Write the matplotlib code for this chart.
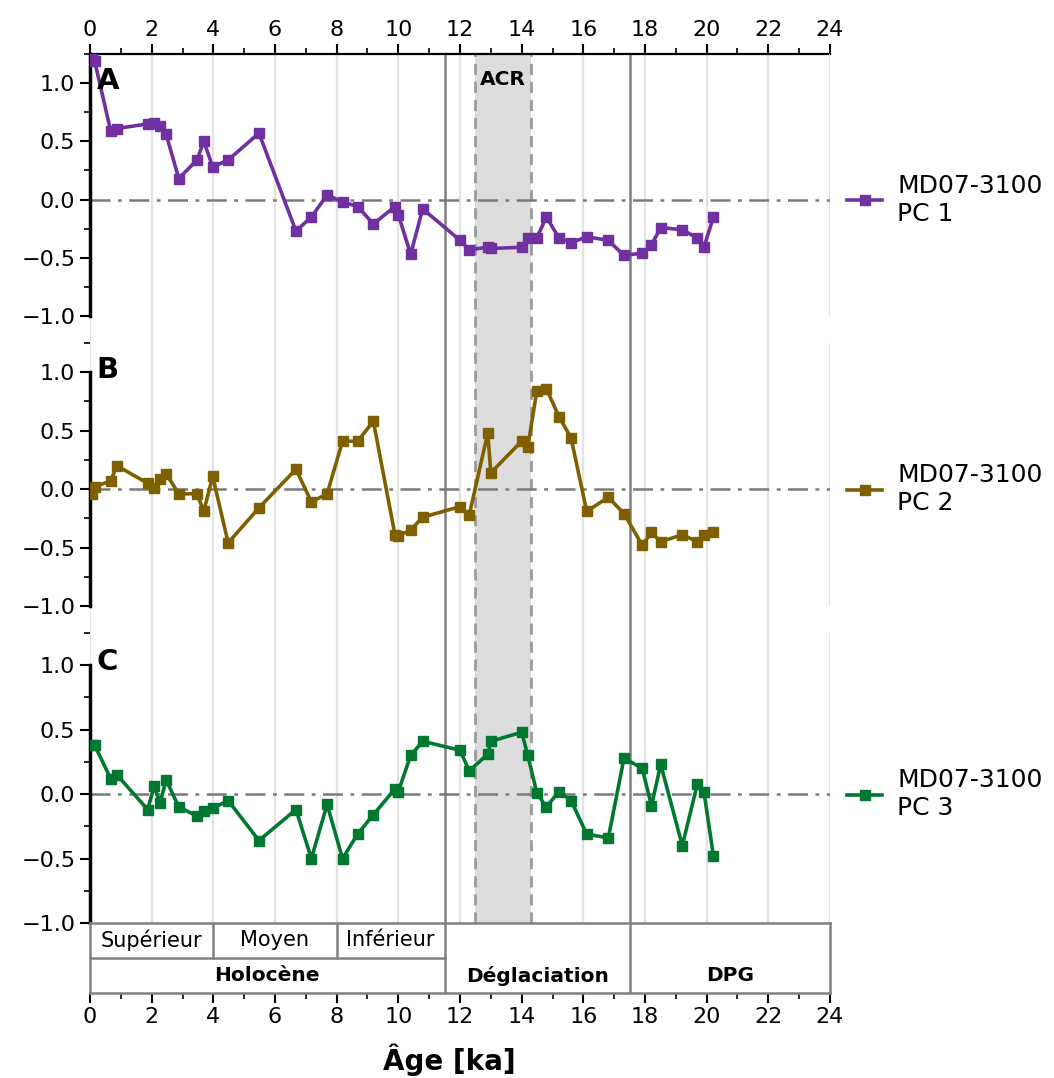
import matplotlib
matplotlib.use("Agg")
import matplotlib.pyplot as plt
from matplotlib.ticker import MultipleLocator, FixedLocator

plt.rcParams['font.family'] = ['DejaVu Sans']

age = [0.08, 0.15, 0.67, 0.87, 1.87, 2.08, 2.27, 2.47, 2.88, 3.47, 3.69, 3.98,
       4.48, 5.48, 6.68, 7.18, 7.69, 8.19, 8.68, 9.19, 9.89, 10.0, 10.40, 10.79,
       12.0, 12.30, 12.90, 13.0, 14.0, 14.2, 14.49, 14.80, 15.21, 15.60, 16.11,
       16.81, 17.32, 17.91, 18.21, 18.51, 19.21, 19.70, 19.91, 20.22]

pc1 = [1.21, 1.19, 0.59, 0.61, 0.65, 0.66, 0.63, 0.56, 0.18, 0.34, 0.50, 0.28,
       0.34, 0.57, -0.27, -0.15, 0.04, -0.02, -0.06, -0.21, -0.06, -0.13, -0.47, -0.08,
       -0.35, -0.43, -0.41, -0.42, -0.41, -0.33, -0.33, -0.15, -0.33, -0.37, -0.32,
       -0.35, -0.48, -0.46, -0.39, -0.24, -0.26, -0.33, -0.41, -0.15]

pc2 = [-0.04, 0.02, 0.07, 0.20, 0.05, 0.01, 0.09, 0.13, -0.04, -0.04, -0.19, 0.11,
       -0.46, -0.16, 0.17, -0.11, -0.04, 0.41, 0.41, 0.58, -0.39, -0.40, -0.35, -0.24,
       -0.15, -0.22, 0.48, 0.14, 0.41, 0.36, 0.84, 0.86, 0.62, 0.44, -0.19,
       -0.07, -0.21, -0.48, -0.37, -0.45, -0.39, -0.45, -0.39, -0.37]

pc3 = [0.38, 0.38, 0.12, 0.15, -0.12, 0.06, -0.07, 0.11, -0.10, -0.17, -0.13, -0.11,
       -0.05, -0.36, -0.12, -0.50, -0.08, -0.50, -0.31, -0.16, 0.04, 0.02, 0.30, 0.41,
       0.34, 0.18, 0.31, 0.41, 0.48, 0.30, 0.01, -0.10, 0.02, -0.05, -0.31,
       -0.34, 0.28, 0.20, -0.09, 0.23, -0.40, 0.08, 0.02, -0.48]

series = [pc1, pc2, pc3]
panel_letters = ["A", "B", "C"]
legend_labels = ["MD07-3100\nPC 1", "MD07-3100\nPC 2", "MD07-3100\nPC 3"]
colors = ["#7030a0", "#7f6000", "#00782f"]

acr = (12.5, 14.3)
boundaries = [11.5, 17.5]

sub_periods = [("Supérieur", 0, 4), ("Moyen", 4, 8), ("Inférieur", 8, 11.5)]
periods = [("Holocène", 0, 11.5), ("Déglaciation", 11.5, 17.5), ("DPG", 17.5, 24)]

W, H = 1054, 1078
fig = plt.figure(figsize=(W / 100, H / 100), dpi=100)

def rect(x0, ytop, x1, ybot):
    return [x0 / W, 1 - ybot / H, (x1 - x0) / W, (ybot - ytop) / H]

X0, X1 = 90, 830
FS = 16
grid_c = "#e3e3e3"
edge_c = "#808080"

# background axes
bg = fig.add_axes(rect(X0, 54, X1, 923))
bg.set_xlim(0, 24)
bg.set_ylim(0, 1)
for s in ["left", "right", "bottom"]:
    bg.spines[s].set_visible(False)
bg.spines["top"].set_linewidth(1.6)
bg.set_yticks([])
bg.xaxis.set_ticks_position("top")
bg.xaxis.set_major_locator(MultipleLocator(2))
bg.xaxis.set_minor_locator(MultipleLocator(1))
bg.tick_params(axis="x", which="major", labelsize=FS, length=7, width=1.5, pad=3)
bg.tick_params(axis="x", which="minor", length=4, width=1.2)
for g in range(0, 24, 2):
    bg.axvline(g, color=grid_c, lw=1.6, zorder=0)
bg.axvspan(acr[0], acr[1], color="#dcdcdc", zorder=0.5, lw=0)
for xv in acr:
    bg.axvline(xv, color="#9a9a9a", lw=2, ls=(0, (4, 2.5)), zorder=1)
for xv in boundaries:
    bg.axvline(xv, color=edge_c, lw=1.8, zorder=1)
bg.text(sum(acr) / 2, 0.971, "ACR", ha="center", va="center",
        fontsize=14.5, fontweight="bold")

panels = [(54, 316), (343, 606), (633, 923)]
for i, (yt, yb) in enumerate(panels):
    ax = fig.add_axes(rect(X0, yt, X1, yb))
    ax.patch.set_visible(False)
    ax.set_xlim(0, 24)
    ax.set_ylim(-1, 1.25)
    for s in ["top", "right", "bottom"]:
        ax.spines[s].set_visible(False)
    ax.spines["left"].set_linewidth(2.5)
    ax.spines["left"].set_bounds(-1, 1.25 if i == 0 else 1.0)
    ax.set_xticks([])
    ax.yaxis.set_major_locator(FixedLocator([-1, -0.5, 0, 0.5, 1]))
    ax.yaxis.set_minor_locator(FixedLocator([-0.75, -0.25, 0.25, 0.75, 1.25]))
    ax.set_yticklabels(["\u22121.0", "\u22120.5", "0.0", "0.5", "1.0"])
    ax.tick_params(axis="y", which="major", labelsize=FS, length=7, width=1.5)
    ax.tick_params(axis="y", which="minor", length=4, width=1.2)
    ax.axvline(24, color=grid_c, lw=1.6, zorder=0)
    ax.axhline(0, color="#7a7a7a", lw=1.8, ls=(0, (8, 3, 1.5, 3)), zorder=2)
    ax.plot(age, series[i], color=colors[i], lw=2.6, marker="s", ms=7.3,
            zorder=3, label=legend_labels[i])
    ax.text(0.009, 0.95, panel_letters[i], transform=ax.transAxes,
            fontsize=21, fontweight="bold", ha="left", va="top")
    ax.legend(loc="center left", bbox_to_anchor=(1.0, 0.444), frameon=False,
              fontsize=18, handlelength=1.4, handletextpad=0.6, labelspacing=0.2,
              borderaxespad=0.4, borderpad=0.3)

# stratigraphic table
tb = fig.add_axes(rect(X0, 923, X1, 993))
tb.set_xlim(0, 24)
tb.set_ylim(0, 2)
for s in tb.spines.values():
    s.set_color(edge_c)
    s.set_linewidth(1.8)
tb.set_yticks([])
tb.xaxis.set_major_locator(MultipleLocator(2))
tb.xaxis.set_minor_locator(MultipleLocator(1))
tb.tick_params(axis="x", which="major", labelsize=FS, length=7, width=1.5, pad=3)
tb.tick_params(axis="x", which="minor", length=4, width=1.2)
tb.plot([0, 11.5], [1, 1], color=edge_c, lw=1.8)
for name, a, b in sub_periods:
    if a > 0:
        tb.plot([a, a], [1, 2], color=edge_c, lw=1.8)
    tb.text((a + b) / 2, 1.5, name, ha="center", va="center", fontsize=15)
for name, a, b in periods:
    if a > 0:
        tb.plot([a, a], [0, 2], color=edge_c, lw=1.8)
    tb.text((a + b) / 2, 0.5, name, ha="center", va="center", fontsize=14.5,
            fontweight="bold")
tb.set_xlabel("Âge [ka]", fontsize=20, fontweight="bold")
tb.xaxis.set_label_coords(0.485, -0.72)

fig.savefig("out.png", dpi=100)
